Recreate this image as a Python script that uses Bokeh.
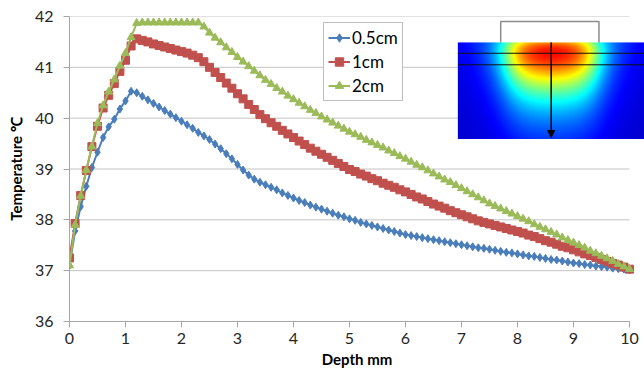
import numpy as np
from bokeh.plotting import figure
from bokeh.models import Range1d, FixedTicker, Arrow, NormalHead
from bokeh.embed import file_html
from bokeh.resources import INLINE

# ---------------- data ----------------
depth = [round(i * 0.1, 1) for i in range(101)]

t_05cm = [37.10, 37.78, 38.26, 38.66, 39.03, 39.33, 39.62, 39.83, 39.98, 40.18,
          40.34, 40.53, 40.50, 40.43, 40.36, 40.29, 40.22, 40.15, 40.08, 40.01,
          39.94, 39.87, 39.80, 39.72, 39.65, 39.58, 39.49, 39.40, 39.30, 39.20,
          39.09, 38.98, 38.88, 38.80, 38.74, 38.69, 38.64, 38.59, 38.53, 38.48,
          38.43, 38.38, 38.34, 38.29, 38.25, 38.21, 38.17, 38.13, 38.09, 38.06,
          38.02, 37.99, 37.95, 37.92, 37.89, 37.86, 37.83, 37.80, 37.77, 37.74,
          37.71, 37.69, 37.67, 37.65, 37.63, 37.61, 37.59, 37.57, 37.55, 37.53,
          37.51, 37.49, 37.47, 37.45, 37.44, 37.42, 37.40, 37.38, 37.36, 37.35,
          37.33, 37.31, 37.29, 37.28, 37.26, 37.24, 37.22, 37.21, 37.19, 37.17,
          37.15, 37.14, 37.12, 37.11, 37.09, 37.08, 37.07, 37.05, 37.04, 37.03,
          37.02]

t_1cm = [37.25, 37.93, 38.48, 38.97, 39.44, 39.84, 40.20, 40.45, 40.68, 40.92,
         41.14, 41.42, 41.56, 41.53, 41.50, 41.46, 41.43, 41.40, 41.37, 41.34,
         41.31, 41.28, 41.24, 41.19, 41.11, 41.00, 40.90, 40.80, 40.69, 40.59,
         40.48, 40.38, 40.27, 40.17, 40.07, 39.99, 39.91, 39.84, 39.76, 39.69,
         39.62, 39.55, 39.48, 39.41, 39.35, 39.29, 39.23, 39.17, 39.11, 39.05,
         38.99, 38.95, 38.90, 38.86, 38.81, 38.77, 38.72, 38.68, 38.64, 38.59,
         38.55, 38.50, 38.45, 38.41, 38.36, 38.31, 38.27, 38.23, 38.18, 38.14,
         38.10, 38.06, 38.02, 37.98, 37.95, 37.92, 37.89, 37.86, 37.83, 37.80,
         37.77, 37.74, 37.70, 37.67, 37.63, 37.59, 37.56, 37.52, 37.48, 37.45,
         37.41, 37.37, 37.33, 37.30, 37.26, 37.22, 37.18, 37.14, 37.11, 37.07,
         37.03]

t_2cm = [37.10, 37.90, 38.47, 38.98, 39.44, 39.90, 40.25, 40.52, 40.76, 41.03,
         41.28, 41.59, 41.87, 41.88, 41.88, 41.88, 41.88, 41.88, 41.88, 41.88,
         41.88, 41.88, 41.88, 41.88, 41.80, 41.68, 41.58, 41.49, 41.39, 41.30,
         41.20, 41.11, 41.02, 40.93, 40.84, 40.75, 40.67, 40.59, 40.52, 40.44,
         40.37, 40.30, 40.23, 40.16, 40.10, 40.03, 39.97, 39.91, 39.85, 39.79,
         39.73, 39.68, 39.63, 39.57, 39.52, 39.47, 39.42, 39.36, 39.31, 39.25,
         39.20, 39.14, 39.08, 39.03, 38.97, 38.91, 38.85, 38.79, 38.74, 38.68,
         38.62, 38.56, 38.50, 38.44, 38.38, 38.32, 38.27, 38.22, 38.17, 38.12,
         38.07, 38.02, 37.97, 37.91, 37.86, 37.81, 37.76, 37.71, 37.65, 37.60,
         37.55, 37.50, 37.45, 37.39, 37.34, 37.29, 37.24, 37.19, 37.13, 37.08,
         37.03]

series_labels = ["0.5cm", "1cm", "2cm"]
x_ticks = list(range(0, 11))
y_ticks = list(range(36, 43))

# ---------------- figure ----------------
FONT = "Lato"
p = figure(width=644, height=378,
           x_range=Range1d(0, 10.268), y_range=Range1d(36, 42),
           output_backend="svg", toolbar_location=None,
           min_border_left=69, min_border_right=0,
           min_border_top=16, min_border_bottom=57)
p.outline_line_color = None
p.xgrid.visible = False
p.ygrid.visible = False

# horizontal grid lines only over the axis extent
gy = y_ticks[1:]
p.segment(x0=[x_ticks[0]] * len(gy), x1=[x_ticks[-1]] * len(gy), y0=gy, y1=gy,
          line_color="#c4c4c4", line_width=1)

for ax in (p.xaxis[0], p.yaxis[0]):
    ax.axis_line_color = "#a6a6a6"
    ax.major_tick_line_color = "#a6a6a6"
    ax.major_tick_out = 6
    ax.major_tick_in = 0
    ax.minor_tick_line_color = None
    ax.major_label_text_font = FONT
    ax.major_label_text_font_size = "16px"
    ax.major_label_text_color = "#262626"
    ax.axis_label_text_font = FONT
    ax.axis_label_text_font_size = "15px"
    ax.axis_label_text_font_style = "bold"
    ax.axis_label_text_color = "#000000"

p.xaxis.ticker = FixedTicker(ticks=x_ticks)
p.xaxis.bounds = (x_ticks[0], x_ticks[-1])
p.yaxis.ticker = FixedTicker(ticks=y_ticks)
p.xaxis.axis_label = "Depth mm"
p.yaxis.axis_label = "Temperature ℃"
p.xaxis.major_label_standoff = 5
p.yaxis.major_label_standoff = 10
p.xaxis.axis_label_standoff = 3
p.yaxis.axis_label_standoff = 7

# ---------------- inset heat-map picture ----------------
IX0, IX1 = 6.935, 10.268          # picture extent (data units)
IY0, IY1 = 39.59, 41.49
H, W = 97, 187
yy, xx = np.mgrid[0:H, 0:W]
d = yy.astype(float)              # depth from the top of the picture, in pixels
u = xx - (W - 1) / 2.0
lat = 1.0 / (1.0 + np.exp((np.abs(u) - 44) / 9.0))
dep = (d + 7) * np.exp(-d / 21.0) / 10.7
broad = np.exp(-(u / 70.0) ** 2) * np.exp(-d / 60.0)
v = 0.07 + 0.58 * lat * dep + 0.27 * broad
v = np.clip(v, 0, 1)
r = np.clip(1.5 - np.abs(4 * v - 3), 0, 1)
g = np.clip(1.5 - np.abs(4 * v - 2), 0, 1)
b = np.clip(1.5 - np.abs(4 * v - 1), 0, 1)
img = np.empty((H, W), dtype=np.uint32)
view = img.view(dtype=np.uint8).reshape((H, W, 4))
view[:, :, 0] = (r * 255).astype(np.uint8)
view[:, :, 1] = (g * 255).astype(np.uint8)
view[:, :, 2] = (b * 255).astype(np.uint8)
view[:, :, 3] = 255
img = img[::-1].copy()  # image_rgba row 0 is at the bottom
p.image_rgba(image=[img], x=IX0, y=IY0, dw=IX1 - IX0, dh=IY1 - IY0)

# applicator outline, slice lines and depth arrow
AX0, AX1, ATOP = 7.70, 9.455, 41.90
p.line(x=[AX0, AX0, AX1, AX1], y=[IY1, ATOP, ATOP, IY1], line_color="#8c8c8c", line_width=1.5)
for yl in (41.277, 41.05):
    p.segment(x0=[IX0], x1=[IX1], y0=[yl], y1=[yl], line_color="#101010", line_width=1)
xc = (IX0 + IX1) / 2
p.add_layout(Arrow(end=NormalHead(size=7, fill_color="black", line_color="black"),
                   x_start=xc, y_start=IY1, x_end=xc, y_end=39.62,
                   line_color="black", line_width=1.5))

# ---------------- series ----------------
colors = ["#4a7ebb", "#c0504d", "#9bbb59"]
markers = ["diamond", "square", "triangle"]
sizes = [8, 8, 8]
for vals, lab, col, mk, sz in zip([t_05cm, t_1cm, t_2cm], series_labels, colors, markers, sizes):
    p.line(depth, vals, line_color=col, line_width=2, legend_label=lab)
    p.scatter(depth, vals, marker=mk, size=sz, fill_color=col, line_color=col, legend_label=lab)

lg = p.legend[0]
lg.location = (254, 220)
lg.border_line_color = "#7f7f7f"
lg.border_line_width = 1
lg.background_fill_alpha = 1
lg.label_text_font = FONT
lg.label_text_font_size = "17px"
lg.label_text_color = "#000000"
lg.glyph_width = 22
lg.glyph_height = 21
lg.label_height = 21
lg.label_standoff = 2
lg.spacing = 3
lg.padding = 4
lg.margin = 0

open("out.html", "w").write(file_html(p, INLINE))
